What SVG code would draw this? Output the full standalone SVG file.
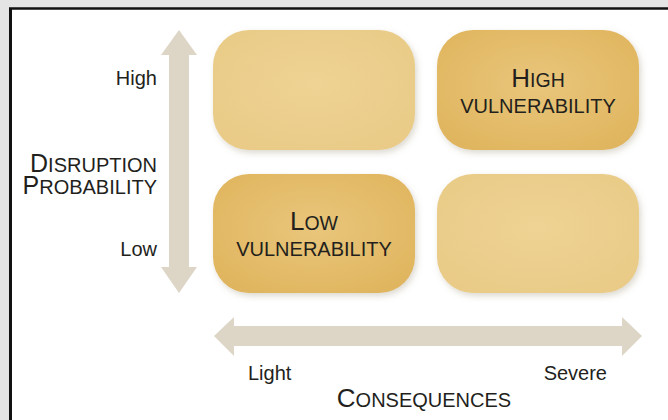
<svg xmlns="http://www.w3.org/2000/svg" width="668" height="420" viewBox="0 0 668 420">
<defs>
<style>
.t{font-family:"Liberation Sans",Arial,sans-serif;fill:#231f1c}
.axis{fill:#ddd5c6}
.light{fill:url(#gl)}
.dark{fill:url(#gd)}
</style>
<radialGradient id="gd" cx="0.5" cy="0.45" r="0.7">
<stop offset="0" stop-color="#e9c67c"/>
<stop offset="1" stop-color="#dfb35b"/>
</radialGradient>
<radialGradient id="gl" cx="0.5" cy="0.45" r="0.7">
<stop offset="0" stop-color="#eed394"/>
<stop offset="1" stop-color="#e9ca86"/>
</radialGradient>
<filter id="sh" x="-10%" y="-10%" width="125%" height="130%">
<feDropShadow dx="2" dy="3" stdDeviation="3" flood-color="#8a8060" flood-opacity="0.3"/>
</filter>
</defs>
<rect x="0" y="0" width="668" height="420" fill="#e4e4e4"/>
<rect x="10" y="8" width="658" height="412" fill="#ffffff"/>
<line x1="9" y1="8.5" x2="668" y2="8.5" stroke="#111" stroke-width="2.5"/>
<line x1="10.5" y1="8" x2="10.5" y2="420" stroke="#111" stroke-width="3"/>

<g id="connectors">
<polygon class="axis" points="179,30 197,55 189,55 189,267 197,267 179,293 161,267 169,267 169,55 161,55"/>
<polygon class="axis" points="214,336 234,317 234,326 622,326 622,317 642,336 622,356 622,346 234,346 234,356"/>
</g>

<g id="box-top-left"><rect class="light" x="213" y="30" width="202" height="120" rx="36" filter="url(#sh)"/></g>
<g id="box-high-vulnerability">
<rect class="dark" x="437" y="30" width="202" height="120" rx="36" filter="url(#sh)"/>
<text class="t" x="538" y="87" text-anchor="middle"><tspan font-size="26">H</tspan><tspan font-size="19.5">IGH</tspan></text>
<text class="t" x="538" y="113" text-anchor="middle" font-size="20">VULNERABILITY</text>
</g>
<g id="box-low-vulnerability">
<rect class="dark" x="213" y="174" width="202" height="119" rx="36" filter="url(#sh)"/>
<text class="t" x="314" y="230" text-anchor="middle"><tspan font-size="26">L</tspan><tspan font-size="19.5">OW</tspan></text>
<text class="t" x="314" y="256" text-anchor="middle" font-size="20">VULNERABILITY</text>
</g>
<g id="box-bottom-right"><rect class="light" x="437" y="174" width="202" height="119" rx="36" filter="url(#sh)"/></g>

<g id="labels">
<text class="t" x="157" y="85" text-anchor="end" font-size="20">High</text>
<text class="t" x="157" y="256" text-anchor="end" font-size="20">Low</text>
<text class="t" x="157" y="172" text-anchor="end"><tspan font-size="25">D</tspan><tspan font-size="20">ISRUPTION</tspan></text>
<text class="t" x="157" y="194" text-anchor="end"><tspan font-size="25">P</tspan><tspan font-size="20">ROBABILITY</tspan></text>
<text class="t" x="248" y="380" font-size="20">Light</text>
<text class="t" x="607" y="380" text-anchor="end" font-size="20">Severe</text>
<text class="t" x="424" y="407" text-anchor="middle"><tspan font-size="26">C</tspan><tspan font-size="20">ONSEQUENCES</tspan></text>
</g>
</svg>
